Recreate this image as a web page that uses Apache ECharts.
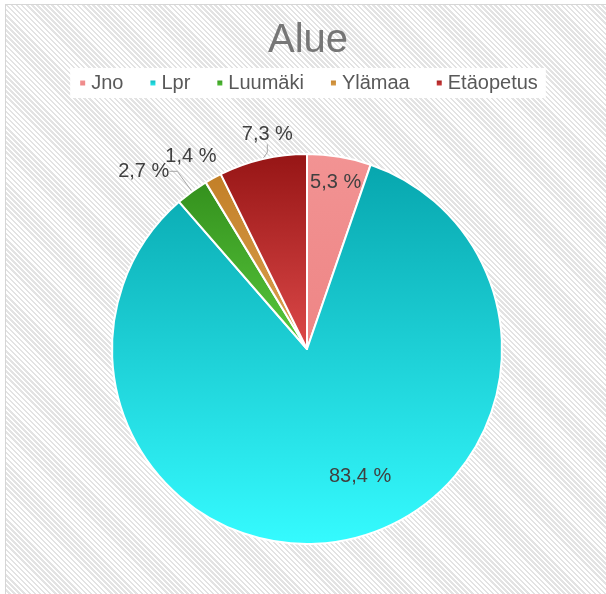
<!DOCTYPE html>
<html>
<head>
<meta charset="utf-8">
<script src="https://cdn.jsdelivr.net/npm/echarts@6/dist/echarts.min.js"></script>
<style>
  html, body { margin: 0; padding: 0; background: #fff; }
  #main {
    position: absolute; left: 5px; top: 4px; width: 604px; height: 594px;
    border: 1px solid #d6d6d6;
    background: repeating-linear-gradient(45deg, #ffffff 0px, #ffffff 1.8px, #e3e3e3 1.8px, #e3e3e3 3.6px);
  }
</style>
</head>
<body>
<div id="main"></div>
<script>
// 数据
const categories = ['Jno', 'Lpr', 'Luumäki', 'Ylämaa', 'Etäopetus']
const shares = [5.3, 83.4, 2.7, 1.4, 7.3]
// 每个扇区的渐变色 (上, 下)
const colorArrs = [
  ['#f29393', '#ee8585'],
  ['#07a6ae', '#35fbff'],
  ['#34901d', '#58c93d'],
  ['#c27f27', '#dca352'],
  ['#961515', '#dd4949']
]
const insideIdx = [0, 1]
const noLineIdx = [3]
// 标签微调 (相对默认位置的偏移)
const labelShift = [
  [12, -67],
  [34, 29],
  [4, -24],
  [21, -17],
  [45, -17]
]

const myChart = echarts.init(document.getElementById('main'))

const seriesData = categories.map((name, i) => {
  return {
    name: name,
    value: shares[i],
    itemStyle: {
      color: new echarts.graphic.LinearGradient(0, 0, 0, 1, [
        { offset: 0, color: colorArrs[i][0] },
        { offset: 1, color: colorArrs[i][1] }
      ])
    },
    label: {
      position: insideIdx.includes(i) ? 'inside' : 'outside'
    },
    labelLine: {
      show: !noLineIdx.includes(i)
    }
  }
})

const option = {
  animation: false,
  title: {
    text: 'Alue',
    left: 'center',
    top: 11,
    textStyle: {
      color: '#767676',
      fontSize: 40,
      fontWeight: 'normal',
      fontFamily: 'Liberation Sans'
    }
  },
  legend: {
    top: 63,
    left: 'center',
    backgroundColor: '#ffffff',
    padding: [5, 8],
    itemGap: 25,
    itemWidth: 7,
    itemHeight: 7,
    icon: 'rect',
    textStyle: {
      color: '#595959',
      fontSize: 20,
      fontFamily: 'Liberation Sans'
    },
    data: categories
  },
  series: [
    {
      type: 'pie',
      center: [301, 344],
      radius: 195,
      startAngle: 90,
      clockwise: true,
      itemStyle: {
        borderColor: '#ffffff',
        borderWidth: 2
      },
      label: {
        color: '#404040',
        fontSize: 20,
        fontFamily: 'Liberation Sans',
        formatter: (p) => String(p.value).replace('.', ',') + ' %'
      },
      labelLine: {
        length: 8,
        length2: 8,
        lineStyle: { color: '#a6a6a6', width: 1 }
      },
      labelLayout: (params) => {
        const s = labelShift[params.dataIndex]
        if (insideIdx.includes(params.dataIndex)) {
          return { dx: s[0], dy: s[1] }
        }
        // 外部标签: 重新定位, 让引导线重新计算
        const r = params.labelRect
        return {
          x: r.x + r.width / 2 + s[0],
          y: r.y + r.height / 2 + s[1],
          align: 'center',
          verticalAlign: 'middle'
        }
      },
      data: seriesData
    }
  ]
}
myChart.setOption(option)
</script>
</body>
</html>
